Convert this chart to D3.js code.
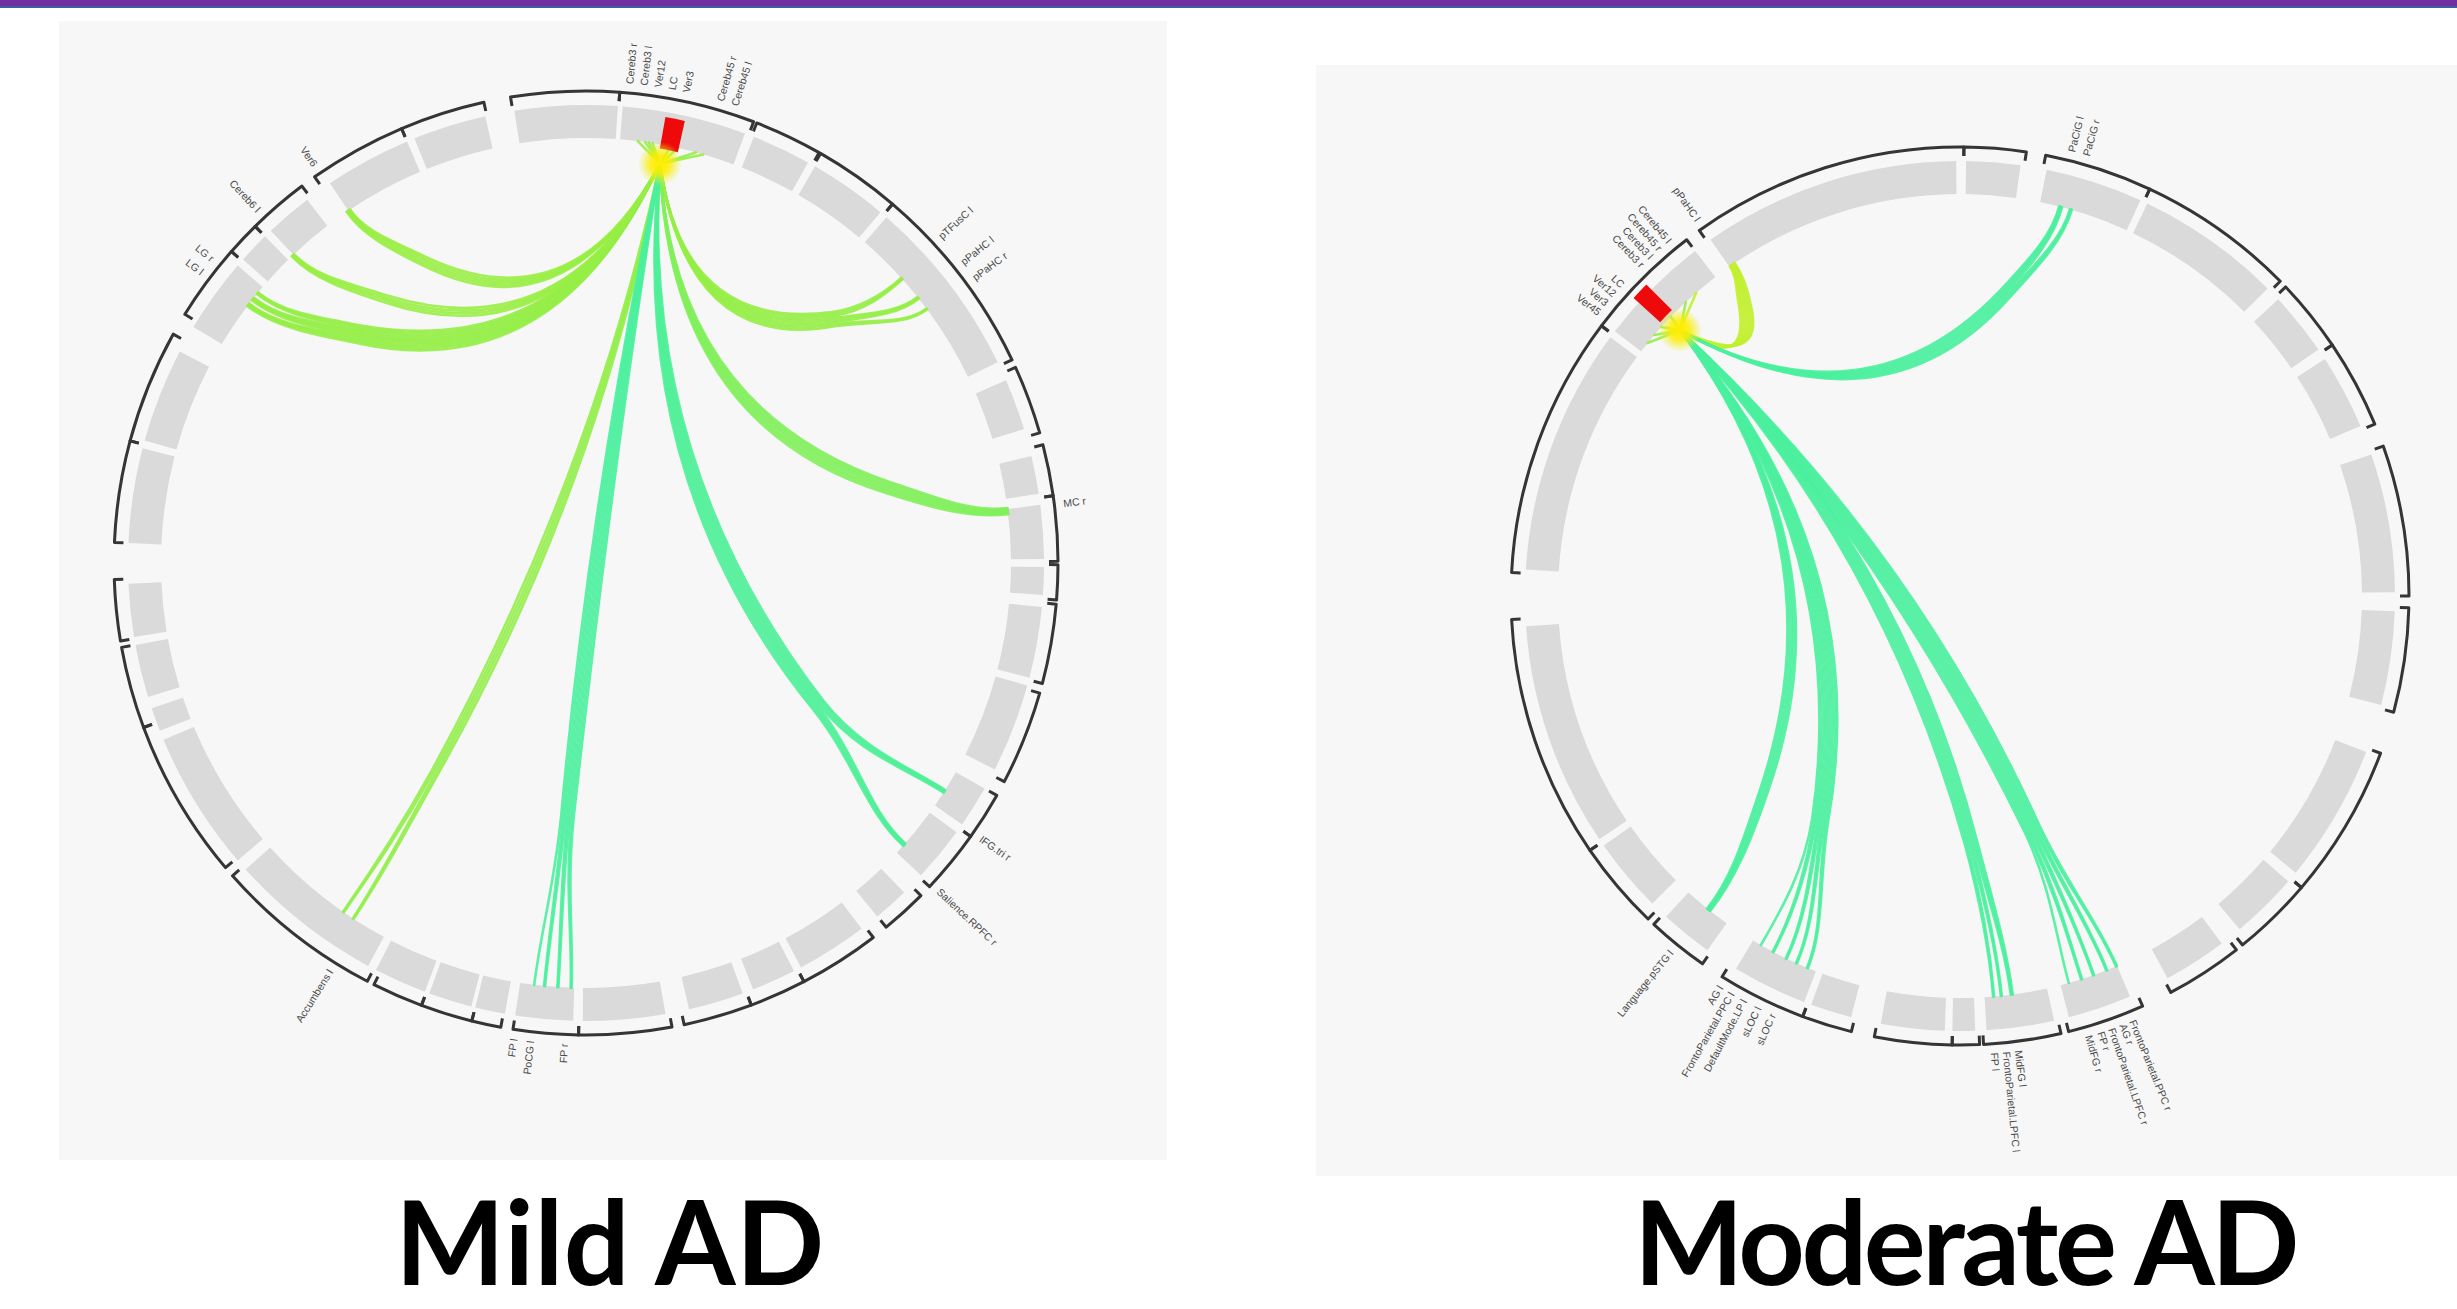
<!DOCTYPE html>
<html>
<head>
<meta charset="utf-8">
<script src="https://cdn.jsdelivr.net/npm/d3@7"></script>
<style>
  html, body { margin: 0; padding: 0; background: #ffffff; }
  svg { display: block; }
</style>
</head>
<body>
<svg id="fig" width="2457" height="1309"></svg>
<script>
// ---------------- Mild AD connectogram ----------------
// region blocks and network brackets, as [start, end] angles in degrees (clockwise from top)
const mildBlocks = [
  [-9, 4], [4.6, 20.3], [21.5, 29], [30, 40], [41, 64], [66.5, 73], [76.5, 81.3], [82.7, 89.5],
  [90.5, 94], [95.5, 104.5], [105.5, 116.8], [119.5, 124.8], [126, 133], [136, 140.5], [143, 152],
  [153, 158.6], [160, 167], [170, 180.4], [181.6, 188.9], [190.2, 194], [194.5, 200], [200.6, 207.3],
  [208.4, 228], [229.5, 247.3], [248.5, 251.5], [253, 259.7], [260.7, 267.4], [272.5, 284.5],
  [285.5, 297.5], [301, 310.5], [311.5, 315.5], [316.5, 322.5], [326, 337], [338, 347.3]
];
const mildBrackets = [
  [-9.2, 4.1], [4.1, 20.8], [21.2, 29.6], [29.8, 40.5], [40.5, 64.5], [65.5, 74], [75.5, 81.8],
  [81.8, 89.8], [90.2, 94.5], [95, 104.8], [106, 117.6], [119.5, 125.4], [125.4, 133.3], [134.8, 140.5],
  [142.5, 152.5], [152.5, 159.5], [159.5, 168], [169.5, 180.9], [180.9, 188.9], [190.4, 194], [194, 200.4],
  [200.4, 206.7], [207.6, 228.5], [229.8, 249.6], [249.6, 259.7], [260.5, 268], [272.5, 285], [285, 299],
  [301.8, 311.3], [311.3, 315.5], [315.5, 323], [324.9, 337], [337, 347.5]
];
const mildSeed = [10.1, 12.6];
const mildLabelAngles = [5.3, 7, 8.7, 10.4, 12.1, 16.3, 18.1, 47.5, 51.5, 53.8, 83, 125, 133,
  182.5, 186.5, 188.5, 212, 307, 309, 317, 325.6];
const mildLabelTexts = ["Cereb3 r", "Cereb3 l", "Ver12", "LC", "Ver3", "Cereb45 r", "Cereb45 l",
  "pTFusC l", "pPaHC l", "pPaHC r", "MC r", "IFG.tri r", "Salience.RPFC r",
  "FP r", "PoCG l", "FP l", "Accumbens l", "LG l", "LG r", "Cereb6 l", "Ver6"];
// links from the seed: where each bundle leaves the seed region, where it lands, its strength and its size
const mildLinkSources = [7, 8, 9, 16, 15, 12.5, 11.5, 8.5];
const mildLinkTargets = [[326], [316.4], [307.4, 308.4, 309.4], [48, 51.4, 53.3], [83],
  [122.5, 131.5], [182, 183.8, 185.6, 187], [213.2, 214.8]];
const mildLinkValues = [0.05, 0.05, 0.08, 0.08, 0.3, 0.9, 0.95, 0.12];
const mildLinkWeights = [10, 8, 20, 16, 13, 15, 14, 8];

// ---------------- Moderate AD connectogram ----------------
const moderateBlocks = [
  [-35, -0.5], [0.8, 8], [11.5, 24.5], [25.5, 45], [47, 55.5], [57, 67], [71, 89.5], [92, 104.5],
  [111, 129.5], [131, 140], [143, 151.5], [157, 165.5], [167.5, 176.5], [178, 181], [182, 190.5],
  [194.5, 200], [201, 211], [215.5, 222.5], [225, 235], [236, 266], [273.5, 306.5], [307.5, 322.5]
];
const moderateBrackets = [
  [-35.5, 0.5], [0.5, 8.5], [11, 25], [25, 45.5], [46.5, 56], [56, 67.5], [70.5, 90], [91.5, 105],
  [110.5, 130.5], [130.5, 141], [142, 152], [156, 166], [167, 177], [177.5, 181], [181, 191],
  [194, 200.5], [200.5, 212], [215, 223], [224, 235.5], [235.5, 267], [273, 307], [307, 322.5]
];
const moderateSeed = [312.4, 314.8];
const moderateLabelAngles = [14.2, 16.1, 158, 159.3, 160.8, 162.2, 163.8, 172.8, 174.3, 175.8,
  204, 206, 208, 209.8, 211.4, 219, 308, 309.5, 311, 312.5, 316, 317.5, 319, 320.5, 325];
const moderateLabelTexts = ["PaCiG l", "PaCiG r", "FrontoParietal.PPC r", "AG r", "FrontoParietal.LPFC r",
  "FP r", "MidFG r", "MidFG l", "FrontoParietal.LPFC l", "FP l", "sLOC r", "sLOC l",
  "DefaultMode.LP l", "FrontoParietal.PPC l", "AG l", "Language.pSTG l",
  "Ver45", "Ver3", "Ver12", "LC", "Cereb3 r", "Cereb3 l", "Cereb45 r", "Cereb45 l", "pPaHC l"];
const moderateLinkSources = [319, 317, 309, 310.5, 312, 314];
const moderateLinkTargets = [[325.5], [14.5, 16], [218.7], [202.3, 204, 205.6, 207.7, 209.7],
  [172.6, 174.1, 175.2], [157.1, 158.6, 160.6, 162.4, 164.3]];
const moderateLinkValues = [-0.15, 0.95, 0.95, 0.95, 0.95, 0.95];
const moderateLinkWeights = [13, 13, 9, 18, 14, 18];

const panelTitles = ["Mild AD", "Moderate AD"];

// ---------------- drawing ----------------
const svg = d3.select("#fig");
const toRad = d3.scaleLinear().domain([0, 360]).range([0, 2 * Math.PI]);
const linkColor = d3.scaleLinear().domain([-0.3, 0, 1])
  .range(["#e6f21c", "#9cee3e", "#46f0a2"]).interpolate(d3.interpolateRgb);

function polar(theta, r) {
  const a = toRad(theta);
  return [r * Math.sin(a), -r * Math.cos(a)];
}
const lerp = (a, b, t) => [a[0] + (b[0] - a[0]) * t, a[1] + (b[1] - a[1]) * t];

// header rule
svg.append("rect").attr("x", 0).attr("y", 0).attr("width", 2457).attr("height", 6).attr("fill", "#7030a0");
svg.append("rect").attr("x", 0).attr("y", 6).attr("width", 2457).attr("height", 2).attr("fill", "#3f5da3");

// panel backgrounds
svg.append("rect").attr("x", 59).attr("y", 21).attr("width", 1108).attr("height", 1139).attr("fill", "#f7f7f7");
svg.append("rect").attr("x", 1316).attr("y", 65).attr("width", 1141).attr("height", 1111).attr("fill", "#f7f7f7");

const defs = svg.append("defs");
const glow = defs.append("radialGradient").attr("id", "seedGlow");
glow.append("stop").attr("offset", "0%").attr("stop-color", "#ffee00").attr("stop-opacity", 1);
glow.append("stop").attr("offset", "45%").attr("stop-color", "#ffee00").attr("stop-opacity", 0.85);
glow.append("stop").attr("offset", "100%").attr("stop-color", "#e8f020").attr("stop-opacity", 0);

function drawConnectogram(c) {
  const g = svg.append("g").attr("transform", `translate(${c.cx},${c.cy})`);

  // grey region blocks
  const blockArc = d3.arc().innerRadius(c.rIn).outerRadius(c.rOut);
  g.append("g").selectAll("path").data(c.blocks).join("path")
    .attr("d", d => blockArc({ startAngle: toRad(d[0]), endAngle: toRad(d[1]) }))
    .attr("fill", "#dadada");

  // network brackets with inward end ticks
  g.append("g").selectAll("path").data(c.brackets).join("path")
    .attr("d", d => {
      const p = d3.path();
      const [x0, y0] = polar(d[0], c.rBr - c.tick);
      const [x1, y1] = polar(d[1], c.rBr - c.tick);
      p.moveTo(x0, y0);
      p.arc(0, 0, c.rBr, toRad(d[0]) - Math.PI / 2, toRad(d[1]) - Math.PI / 2, false);
      p.lineTo(x1, y1);
      return p.toString();
    })
    .attr("fill", "none").attr("stroke", "#353535").attr("stroke-width", 3)
    .attr("stroke-linejoin", "round");

  // region labels
  g.append("g").selectAll("text").data(c.labelAngles).join("text")
    .attr("transform", a => {
      const flip = a > 180 ? " rotate(180)" : "";
      return `rotate(${a - 90}) translate(${c.rBr + 9},0)${flip}`;
    })
    .attr("text-anchor", a => a > 180 ? "end" : "start")
    .attr("dominant-baseline", "middle")
    .attr("font-family", "Liberation Sans, Arial, sans-serif")
    .attr("font-size", 10.5)
    .attr("fill", "#4a4a4a")
    .text((a, i) => c.labelTexts[i]);

  // link bundles from the seed hub
  const hub = polar(c.hubAngle, c.hubR);
  const linkLayer = g.append("g").attr("fill", "none").attr("stroke-linecap", "round");
  const order = d3.range(c.linkTargets.length).sort((a, b) => c.linkValues[a] - c.linkValues[b]);

  // short fan lines from the seed region into the hub
  order.forEach(i => {
    const s = polar(c.linkSources[i], c.rIn);
    linkLayer.append("line")
      .attr("x1", s[0]).attr("y1", s[1]).attr("x2", hub[0]).attr("y2", hub[1])
      .attr("stroke", linkColor(Math.min(c.linkValues[i], 0.1))).attr("stroke-width", 2.6)
      .attr("opacity", 0.9);
  });

  order.forEach(i => {
    const col = linkColor(c.linkValues[i]);
    const targets = c.linkTargets[i];
    const w = c.linkWeights[i];
    // shared trunk toward the mean landing angle
    const tm = d3.mean(targets);
    const endM = polar(tm, c.rIn);
    const d = ((tm - c.hubAngle + 540) % 360) - 180;
    const bend = 0.8 * Math.pow(1 - Math.abs(d) / 180, 2);
    const ctrl = polar(c.hubAngle + d / 2, bend * c.rIn);
    const p1 = lerp(hub, ctrl, 2 / 3), p2 = lerp(endM, ctrl, 2 / 3);
    // split the trunk where the bundle starts to fan out
    const ts = 0.8;
    const q1 = lerp(hub, p1, ts), mm = lerp(p1, p2, ts), r2 = lerp(p2, endM, ts);
    const q2 = lerp(q1, mm, ts), r1 = lerp(mm, r2, ts), q3 = lerp(q2, r1, ts);
    const tx0 = r1[0] - q2[0], ty0 = r1[1] - q2[1];
    const tl = Math.hypot(tx0, ty0);
    const tx = tx0 / tl, ty = ty0 / tl;
    const px = -ty, py = tx;
    // order landing angles by the side of the trunk they fall on, so strands do not cross
    const sorted = targets.slice().sort((a, b) => {
      const ea = polar(a, c.rIn), eb = polar(b, c.rIn);
      return (ea[0] * px + ea[1] * py) - (eb[0] * px + eb[1] * py);
    });

    const n = Math.max(3, Math.round(w / 1.9));
    const strands = d3.range(n).map(j => ({ j, k: Math.min(sorted.length - 1, Math.floor(j * sorted.length / n)) }));
    const groups = d3.group(strands, s => s.k);
    strands.forEach(s => {
      const grp = groups.get(s.k);
      const m = grp.indexOf(s);
      const t = sorted[s.k] + (m - (grp.length - 1) / 2) * 0.14;
      const end = polar(t, c.rIn);
      const off = (s.j / (n - 1) - 0.5) * w * 1.2;
      const j3 = [q3[0] + px * off * 0.75, q3[1] + py * off * 0.75];
      const L = Math.hypot(end[0] - j3[0], end[1] - j3[1]);
      const er = Math.hypot(end[0], end[1]);
      const b1 = [j3[0] + tx * L * 0.4, j3[1] + ty * L * 0.4];
      const b2 = [end[0] - end[0] / er * L * 0.3, end[1] - end[1] / er * L * 0.3];
      const p = d3.path();
      p.moveTo(hub[0], hub[1]);
      p.bezierCurveTo(q1[0] + px * off * 0.7, q1[1] + py * off * 0.7,
                      q2[0] + px * off, q2[1] + py * off, j3[0], j3[1]);
      p.bezierCurveTo(b1[0], b1[1], b2[0], b2[1], end[0], end[1]);
      linkLayer.append("path").attr("d", p.toString())
        .attr("stroke", col).attr("stroke-width", 2.6).attr("opacity", 0.9);
    });
  });

  // seed region and its glow
  const seedArc = d3.arc().innerRadius(c.seedRadii[0]).outerRadius(c.seedRadii[1]);
  g.append("path")
    .attr("d", seedArc({ startAngle: toRad(c.seed[0]), endAngle: toRad(c.seed[1]) }))
    .attr("fill", "#ee0a0a");
  g.append("circle").attr("cx", hub[0]).attr("cy", hub[1]).attr("r", 22)
    .attr("fill", "url(#seedGlow)");
}

drawConnectogram({
  cx: 586, cy: 563, rIn: 425, rOut: 458, rBr: 472, tick: 9,
  blocks: mildBlocks, brackets: mildBrackets,
  seed: mildSeed, seedRadii: [421, 453],
  labelAngles: mildLabelAngles, labelTexts: mildLabelTexts,
  hubAngle: 10.5, hubR: 406,
  linkSources: mildLinkSources, linkTargets: mildLinkTargets,
  linkValues: mildLinkValues, linkWeights: mildLinkWeights
});

drawConnectogram({
  cx: 1960, cy: 596, rIn: 402, rOut: 435, rBr: 449, tick: 9,
  blocks: moderateBlocks, brackets: moderateBrackets,
  seed: moderateSeed, seedRadii: [406, 442],
  labelAngles: moderateLabelAngles, labelTexts: moderateLabelTexts,
  hubAngle: 313.5, hubR: 386,
  linkSources: moderateLinkSources, linkTargets: moderateLinkTargets,
  linkValues: moderateLinkValues, linkWeights: moderateLinkWeights
});

// panel titles
svg.append("g").selectAll("text").data(panelTitles).join("text")
  .attr("x", (d, i) => [610, 1965][i])
  .attr("y", 1285)
  .attr("text-anchor", "middle")
  .attr("font-family", "Lato, 'Open Sans', sans-serif")
  .attr("font-weight", "bold")
  .attr("font-size", 116)
  .attr("letter-spacing", (d, i) => [0.5, -3.5][i])
  .attr("fill", "#000000")
  .text(d => d);
</script>
</body>
</html>
